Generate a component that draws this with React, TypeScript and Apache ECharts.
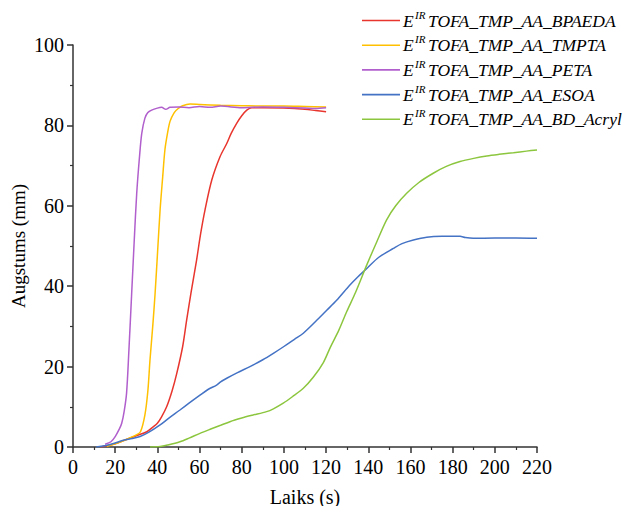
import React, { useEffect, useRef } from "react";
import * as echarts from "echarts";

const seriesNames = [
  "TOFA_TMP_AA_BPAEDA",
  "TOFA_TMP_AA_TMPTA",
  "TOFA_TMP_AA_PETA",
  "TOFA_TMP_AA_ESOA",
  "TOFA_TMP_AA_BD_Acryl",
];
const seriesColors = ["#e8352d", "#ffc000", "#b05fcc", "#4472c4", "#8cc63f"];

const xTicks = [0, 20, 40, 60, 80, 100, 120, 140, 160, 180, 200, 220];
const yTicks = [0, 20, 40, 60, 80, 100];
const xTitle = "Laiks (s)";
const yTitle = "Augstums (mm)";

const bpaedaX = [13, 20, 25, 30, 35, 38, 40, 42, 44.4, 47, 49.2, 52, 53.9, 56, 58.6, 60.5, 62.6, 65.8, 69.7, 72.9, 75, 77.6, 80, 82.4, 84.7, 90, 100, 110, 115, 120];
const bpaedaY = [0, 0.8, 1.8, 2.8, 3.8, 5, 5.9, 7.5, 10, 14, 18.3, 25, 31.6, 38.5, 46.5, 53, 59, 66.4, 72.2, 75.5, 78, 80.5, 82.4, 83.8, 84.4, 84.4, 84.3, 84.0, 83.7, 83.4];

const tmptaX = [16, 20, 25, 30, 32, 34.1, 35.5, 36.5, 37.8, 38.9, 40.1, 41.3, 42.5, 43.6, 44.8, 46, 48, 49.9, 52, 55.5, 60, 70, 80, 90, 100, 110, 120];
const tmptaY = [0.2, 0.8, 1.8, 3, 3.8, 8, 14, 21.6, 30, 38, 48.5, 59, 67, 74, 78, 81, 83.2, 84.2, 84.9, 85.3, 85.2, 85.0, 84.9, 84.8, 84.8, 84.7, 84.6];

const petaX = [15.2, 18, 20, 22, 23.1, 24.3, 25.4, 26.5, 27.8, 29, 30.2, 31.5, 32.6, 34.1, 35.5, 37.3, 40, 42, 44, 46, 50, 55, 60, 65, 70, 80, 90, 100, 110, 115, 120];
const petaY = [0.7, 1.3, 2.6, 4.5, 5.9, 9, 13.4, 24, 38, 51, 63, 72, 78, 81.8, 83.2, 83.8, 84.3, 84.5, 84.0, 84.5, 84.6, 84.4, 84.7, 84.5, 84.8, 84.4, 84.6, 84.5, 84.3, 84.2, 84.4];

const esoaX = [11, 15, 20, 23.9, 28, 31.8, 36, 41.3, 45, 50.7, 55, 60.2, 64, 68.1, 70, 72.9, 78, 83.9, 90, 95, 100, 105, 109.2, 115, 120.3, 125, 131.3, 135, 139.3, 145, 151.9, 156, 161.4, 167.7, 175, 183.5, 186, 189.8, 200, 210, 220];
const esoaY = [0, 0.3, 1.0, 1.7, 2.1, 2.6, 3.7, 5.5, 7, 9.2, 10.9, 12.9, 14.3, 15.4, 16.2, 17.1, 18.5, 20, 21.7, 23.3, 25.0, 26.8, 28.3, 31.2, 34, 36.5, 40.3, 42.3, 44.4, 47.2, 49.4, 50.6, 51.5, 52.2, 52.4, 52.4, 52.1, 51.9, 52.0, 52.0, 51.9];

const acrylX = [36.5, 41.3, 45, 50.7, 55, 60.2, 65, 70, 74.4, 80, 85, 91.8, 95, 99.7, 104, 109.2, 114, 118.7, 122, 126, 129.8, 134, 139.3, 144, 148.7, 153, 158.2, 164, 170.8, 177, 183.5, 190, 196.2, 202, 208.8, 215, 220];
const acrylY = [0, 0.1, 0.5, 1.3, 2.2, 3.4, 4.4, 5.4, 6.3, 7.2, 7.9, 8.8, 9.5, 10.9, 12.5, 14.6, 17.4, 21, 24.8, 29, 33.7, 38.5, 45.3, 51, 56.5, 60, 63.1, 65.8, 68.1, 69.8, 71, 71.8, 72.4, 72.8, 73.2, 73.6, 73.9];

const seriesX = [bpaedaX, tmptaX, petaX, esoaX, acrylX];
const seriesY = [bpaedaY, tmptaY, petaY, esoaY, acrylY];

const FONT = "Liberation Serif";

export default function App() {
  const ref = useRef<HTMLDivElement>(null);
  useEffect(() => {
    if (!ref.current) return;
    const chart = echarts.init(ref.current, undefined, { renderer: "svg" });
    const axisColor = "#333";

    chart.setOption({
      animation: false,
      backgroundColor: "#fff",
      grid: { left: 73, right: 89, top: 45, bottom: 59 },
      xAxis: {
        type: "value",
        min: 0,
        max: 220,
        interval: 20,
        axisLine: { show: true, onZero: false, lineStyle: { color: axisColor, width: 1.5 } },
        axisTick: { show: true, inside: false, length: 6, lineStyle: { color: axisColor, width: 1.5 } },
        minorTick: { show: true, splitNumber: 2, length: 3, lineStyle: { color: axisColor, width: 1.2 } },
        axisLabel: { show: false },
        splitLine: { show: false },
      },
      yAxis: {
        type: "value",
        min: 0,
        max: 100,
        interval: 20,
        axisLine: { show: true, onZero: false, lineStyle: { color: axisColor, width: 1.5 } },
        axisTick: { show: true, inside: false, length: 6, lineStyle: { color: axisColor, width: 1.5 } },
        minorTick: { show: true, splitNumber: 2, length: 3, lineStyle: { color: axisColor, width: 1.2 } },
        axisLabel: { show: false },
        splitLine: { show: false },
      },
      series: seriesNames.map((name, i) => ({
        name,
        type: "line",
        showSymbol: false,
        symbol: "none",
        smooth: 0.3,
        color: seriesColors[i],
        lineStyle: { width: 1.5, color: seriesColors[i] },
        data: seriesX[i].map((x, j) => [x, seriesY[i][j]]),
      })),
    });

    const toPx = (x: number, y: number) =>
      chart.convertToPixel({ xAxisIndex: 0, yAxisIndex: 0 }, [x, y]) as number[];
    const origin = toPx(0, 0);
    const xEnd = toPx(220, 0);
    const yTop = toPx(0, 100);

    const g: any[] = [];
    xTicks.forEach((v) => {
      const p = toPx(v, 0);
      g.push({
        type: "text",
        x: p[0],
        y: origin[1] + 10,
        style: { text: String(v), fontFamily: FONT, fontSize: 20, fill: "#000", align: "center", verticalAlign: "top" },
      });
    });
    yTicks.forEach((v) => {
      const p = toPx(0, v);
      g.push({
        type: "text",
        x: origin[0] - 9,
        y: p[1],
        style: { text: String(v), fontFamily: FONT, fontSize: 20, fill: "#000", align: "right", verticalAlign: "middle" },
      });
    });
    g.push({
      type: "text",
      x: (origin[0] + xEnd[0]) / 2,
      y: origin[1] + 40,
      style: { text: xTitle, fontFamily: FONT, fontSize: 20, fill: "#000", align: "center", verticalAlign: "top" },
    });
    g.push({
      type: "text",
      x: 18,
      y: (origin[1] + yTop[1]) / 2,
      rotation: Math.PI / 2,
      style: { text: yTitle, fontFamily: FONT, fontSize: 19, fill: "#000", align: "center", verticalAlign: "middle" },
    });

    seriesNames.forEach((name, i) => {
      const y = 20.5 + i * 24.7;
      g.push({
        type: "line",
        shape: { x1: 362, y1: y, x2: 400, y2: y },
        style: { stroke: seriesColors[i], lineWidth: 1.6 },
      });
      g.push({
        type: "text",
        x: 403,
        y,
        style: { text: "E", fontFamily: FONT, fontStyle: "italic", fontSize: 17.5, fill: "#000", verticalAlign: "middle" },
      });
      g.push({
        type: "text",
        x: 415,
        y: y - 6,
        style: { text: "IR", fontFamily: FONT, fontStyle: "italic", fontSize: 11, fill: "#000", verticalAlign: "middle" },
      });
      g.push({
        type: "text",
        x: 428,
        y,
        style: { text: name, fontFamily: FONT, fontStyle: "italic", fontSize: 17.5, fill: "#000", verticalAlign: "middle" },
      });
    });

    chart.setOption({ graphic: g });
    return () => chart.dispose();
  }, []);
  return (
    <div
      ref={ref}
      style={{ position: "absolute", left: 0, top: 0, width: 626, height: 506 }}
    />
  );
}
